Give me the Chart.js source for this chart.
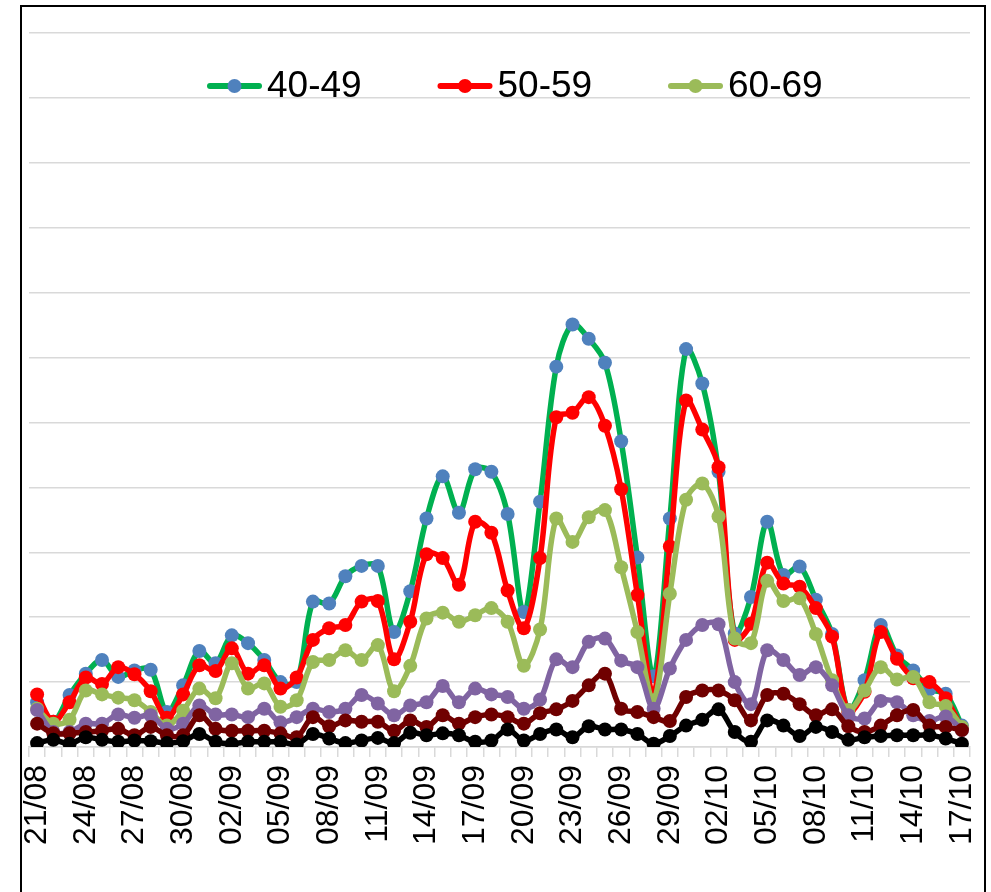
<!DOCTYPE html>
<html>
<head>
<meta charset="utf-8">
<style>
  html, body { margin: 0; padding: 0; background: #fff; overflow: hidden; }
  #frame { position: absolute; left: 20px; top: 5px; width: 966px; height: 950px; border: 2px solid #000; box-sizing: border-box; }
  #wrap { position: absolute; left: 0; top: 0; width: 991px; height: 892px; }
</style>
</head>
<body>
<div id="frame"></div>
<div id="wrap"><canvas id="chart"></canvas></div>

<script src="https://cdn.jsdelivr.net/npm/chart.js"></script>
<script>
  const days = [
    '21/08','22/08','23/08','24/08','25/08','26/08','27/08','28/08','29/08','30/08','31/08',
    '01/09','02/09','03/09','04/09','05/09','06/09','07/09','08/09','09/09','10/09',
    '11/09','12/09','13/09','14/09','15/09','16/09','17/09','18/09','19/09','20/09',
    '21/09','22/09','23/09','24/09','25/09','26/09','27/09','28/09','29/09','30/09',
    '01/10','02/10','03/10','04/10','05/10','06/10','07/10','08/10','09/10','10/10',
    '11/10','12/10','13/10','14/10','15/10','16/10','17/10'
  ];

  const age40 = [69,39,80,113,134,108,118,119,54,95, 148,129,172,160,134,100,100,224,221,263,
                 279,279,177,240,352,417,361,428,424,359, 208,378,586,651,629,592,471,292,109,352,
                 613,560,424,175,231,347,265,278,227,174, 57,103,188,141,118,89,82,33];
  const age50 = [81,39,69,107,97,123,112,86,45,81, 126,117,152,113,126,90,107,165,183,188,
                 224,225,135,193,297,291,250,347,330,241, 183,291,508,515,539,495,397,234,82,309,
                 534,489,431,165,190,284,252,247,214,170, 54,85,177,136,106,100,75,28];
  const age60 = [59,36,42,87,81,76,72,54,33,56, 90,75,129,90,98,62,72,131,134,149,
                 134,157,86,125,198,207,193,203,214,193, 125,181,352,316,354,365,277,177,72,236,
                 381,406,355,167,160,256,225,229,174,103, 57,87,123,104,108,69,63,31];
  const age70 = [57,23,23,36,36,50,45,49,28,36, 64,50,50,46,59,38,46,59,54,59,
                 80,67,49,64,69,94,69,90,81,77, 59,73,135,123,162,167,133,123,59,121,
                 165,188,189,100,66,149,134,111,123,95, 49,44,71,69,49,40,47,26];
  const age80 = [36,21,21,23,25,28,18,31,18,18, 49,28,25,25,25,21,15,46,32,41,
                 39,39,25,41,31,49,36,46,50,46, 36,52,58,71,95,113,59,54,46,40,
                 77,87,87,72,41,80,82,66,49,58, 32,23,33,49,57,33,31,26];
  const age90 = [6,11,5,15,11,8,10,9,6,9, 20,8,5,8,8,8,4,20,13,6,
                 10,14,6,22,18,21,18,8,10,27, 10,20,27,15,32,27,27,20,5,17,
                 33,42,58,23,8,41,33,17,31,23, 11,15,17,18,18,18,13,5];

  function series(label, data, line, marker, order) {
    return {
      label: label,
      data: data,
      borderColor: line,
      backgroundColor: marker,
      pointBackgroundColor: marker,
      pointBorderWidth: 0,
      pointRadius: 7,
      pointHoverRadius: 7,
      borderWidth: 5.5,
      tension: 0.33,
      fill: false,
      order: order
    };
  }

  // legend with a line + dot sample, drawn inside the plot like the original
  const lineLegend = {
    id: 'lineLegend',
    afterDraw(chart) {
      const ctx = chart.ctx;
      const area = chart.chartArea;
      ctx.save();
      ctx.font = '37px "Liberation Sans", Arial, sans-serif';
      ctx.textBaseline = 'alphabetic';
      chart.data.datasets.slice(0, 3).forEach((ds, i) => {
        const x = area.left + 178 + i * 230.5;
        const y = area.top + 53;
        ctx.strokeStyle = ds.borderColor;
        ctx.lineWidth = 6;
        ctx.lineCap = 'round';
        ctx.beginPath();
        ctx.moveTo(x + 3, y);
        ctx.lineTo(x + 52, y);
        ctx.stroke();
        ctx.fillStyle = ds.pointBackgroundColor;
        ctx.beginPath();
        ctx.arc(x + 27.5, y, 7, 0, Math.PI * 2);
        ctx.fill();
        ctx.fillStyle = '#000';
        ctx.fillText(ds.label, x + 60, y + 11);
      });
      ctx.restore();
    }
  };

  const ctx = document.getElementById('chart').getContext('2d');
  new Chart(ctx, {
    type: 'line',
    data: {
      labels: days,
      datasets: [
        series('40-49', age40, '#00B050', '#4F81BD', 6),
        series('50-59', age50, '#FF0000', '#FF0000', 5),
        series('60-69', age60, '#9BBB59', '#9BBB59', 4),
        series('70-79', age70, '#8064A2', '#8064A2', 3),
        series('80-89', age80, '#700000', '#700000', 2),
        series('90+', age90, '#000000', '#000000', 1)
      ]
    },
    options: {
      responsive: true,
      maintainAspectRatio: false,
      animation: false,
      layout: { padding: { left: 29, right: 21, top: 33, bottom: 0 } },
      plugins: {
        legend: { display: false },
        tooltip: { enabled: false }
      },
      scales: {
        x: {
          offset: true,
          grid: {
            offset: true,
            drawOnChartArea: false,
            tickLength: 10,
            color: '#d9d9d9',
            lineWidth: 1.5
          },
          border: { color: '#d9d9d9', width: 1.5 },
          ticks: {
            autoSkip: false,
            maxRotation: 90,
            minRotation: 90,
            padding: 8,
            color: '#000',
            font: { family: '"Liberation Sans", Arial, sans-serif', size: 32 },
            callback: function (v, i) {
              return i % 3 === 0 ? this.getLabelForValue(v) : '';
            }
          },
          afterFit: (s) => {
            s.height = 145;
            s.paddingLeft = 0;
            s.paddingRight = 0;
          }
        },
        y: {
          min: 0,
          max: 1100,
          ticks: { stepSize: 100, display: false },
          grid: { color: '#d9d9d9', lineWidth: 1.5, drawTicks: false },
          border: { display: false },
          afterFit: (s) => { s.width = 0; }
        }
      }
    },
    plugins: [lineLegend]
  });
</script>
</body>
</html>
